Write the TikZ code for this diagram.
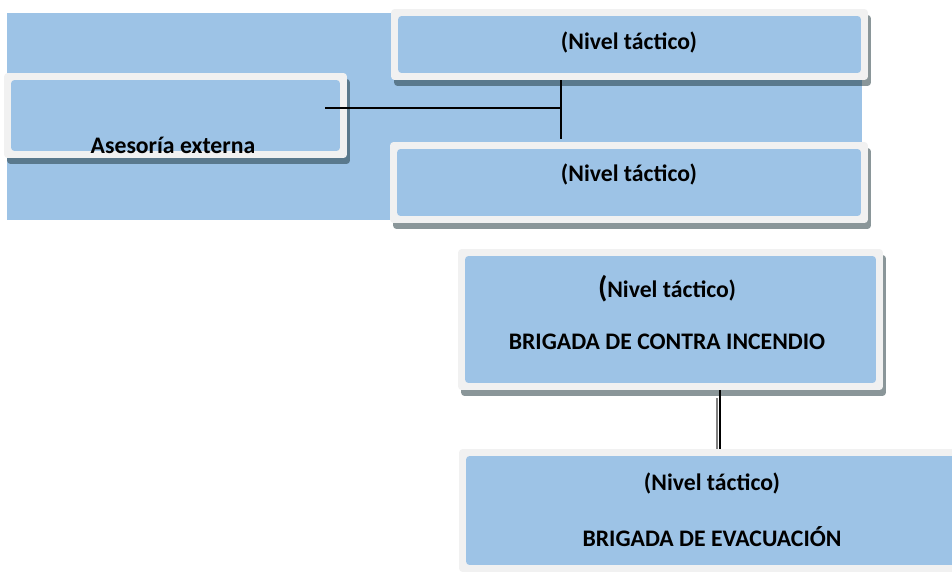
\documentclass[tikz,border=0pt]{standalone}
\usepackage{fontspec}
\setmainfont{Carlito}
\usetikzlibrary{shadows}
\definecolor{boxblue}{RGB}{157,195,230}
\definecolor{boxrim}{RGB}{241,241,241}
\definecolor{shadowink}{RGB}{30,54,60}
\tikzset{
  cell/.style={rectangle, rounded corners=2pt, fill=boxrim, inner sep=0pt,
    drop shadow={shadow xshift=0.06cm, shadow yshift=-0.12cm, opacity=0.52, fill=shadowink},
    path picture={\fill[boxblue] ([shift={(0.14cm,-0.14cm)}]path picture bounding box.north west)
      rectangle ([shift={(-0.14cm,0.14cm)}]path picture bounding box.south east);}},
  txt/.style={font=\bfseries\fontsize{13.5}{15}\selectfont, inner sep=0pt},
  link/.style={line width=0.8pt}
}

\begin{document}
\begin{tikzpicture}[x=0.02cm,y=-0.02cm]
  \useasboundingbox (0,0) rectangle (952,571);
  \clip (0,0) rectangle (952,571);
  % blue panel behind the upper group
  \fill[boxblue] (7,13) rectangle (862,220);

  \node[cell, minimum width=9.54cm, minimum height=1.42cm] (top) at (629.5,44.5) {};
  \node[cell, minimum width=6.86cm, minimum height=1.70cm] (ase) at (175.5,115.5) {};
  \node[cell, minimum width=9.56cm, minimum height=1.62cm] (mid) at (629,182.5) {};
  \node[cell, minimum width=8.50cm, minimum height=2.82cm] (bci) at (670.5,319.5) {};
  \node[cell, minimum width=10.12cm, minimum height=2.46cm] (evac) at (712,510.5) {};

  \node[txt] (top-txt) at (629,42) {(Nivel táctico)};
  \node[txt] (ase-txt) at (173,145) {Asesoría externa};
  \node[txt] (mid-txt) at (629,174) {(Nivel táctico)};
  \node[txt] (bci-lvl) at (667,289) {{\fontsize{17}{18}\selectfont(}Nivel táctico)};
  \node[txt] (bci-txt) at (667,342) {BRIGADA DE CONTRA INCENDIO};
  \node[txt] (evac-lvl) at (712,483) {(Nivel táctico)};
  \node[txt] (evac-txt) at (712,537) {BRIGADA DE EVACUACIÓN};

  % connectors
  \coordinate (hub) at (561,108);
  \coordinate (ase-tip) at (325,108);
  \coordinate (drop) at (720,0);
  \coordinate (drop-grey) at (717,0);
  \draw[link] (ase-tip) -- (hub);
  \draw[link] (top.south -| hub) -- ([yshift=0.06cm]mid.north -| hub);
  \draw[line width=0.7pt] (bci.south -| drop) -- (evac.north -| drop);
  \draw[line width=0.7pt, gray] ([yshift=-0.16cm]bci.south -| drop-grey) -- (evac.north -| drop-grey);
\end{tikzpicture}
\end{document}
